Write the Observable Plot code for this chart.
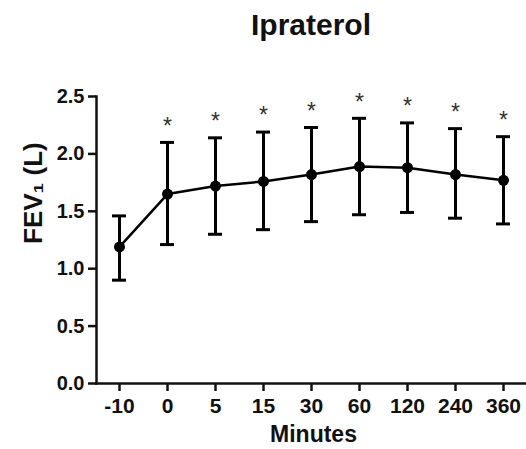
<!DOCTYPE html>
<html>
<head>
<meta charset="utf-8">
<script src="https://cdn.jsdelivr.net/npm/d3@7"></script>
<script src="https://cdn.jsdelivr.net/npm/@observablehq/plot@0.6"></script>
<style>
  body { margin: 0; background: #fff; font-family: "Liberation Sans", Arial, sans-serif; }
  #wrap { width: 526px; }
  #title { height: 50px; line-height: 50px; padding-left: 96px; text-align: center; font-weight: bold; font-size: 30px; color: #111; }
  svg { display: block; }
</style>
</head>
<body>
<div id="wrap">
  <div id="title">Ipraterol</div>
  <div id="chart"></div>
</div>
<script>
const minutes = ["-10", "0", "5", "15", "30", "60", "120", "240", "360"];
const meanFEV1 = [1.19, 1.65, 1.72, 1.76, 1.82, 1.89, 1.88, 1.82, 1.77];
const upperFEV1 = [1.46, 2.10, 2.14, 2.19, 2.23, 2.31, 2.27, 2.22, 2.15];
const lowerFEV1 = [0.90, 1.21, 1.30, 1.34, 1.41, 1.47, 1.49, 1.44, 1.39];
const significant = [false, true, true, true, true, true, true, true, true];
const yTicks = [0, 0.5, 1.0, 1.5, 2.0, 2.5];

const data = minutes.map((m, i) => ({
  m, mean: meanFEV1[i], upper: upperFEV1[i], lower: lowerFEV1[i], sig: significant[i]
}));

const font = "Liberation Sans, Arial, sans-serif";

const chart = Plot.plot({
  width: 526,
  height: 399,
  marginTop: 46,
  marginBottom: 66,
  marginLeft: 96,
  marginRight: 0,
  style: { fontFamily: font, background: "white", color: "#111" },
  x: { type: "band", domain: minutes, paddingInner: 0.71, paddingOuter: 0.305 },
  y: { domain: [0, 2.5] },
  marks: [
    Plot.axisY({ ticks: yTicks, tickFormat: d3.format(".1f"), tickSize: 8, tickPadding: 4, strokeWidth: 2.5, fontSize: 20, fontWeight: "bold", label: null }),
    Plot.axisX({ tickSize: 8, tickPadding: 7, strokeWidth: 2.5, fontSize: 21, fontWeight: "bold", label: null }),
    Plot.frame({ anchor: "left", strokeWidth: 2.5 }),
    Plot.frame({ anchor: "bottom", strokeWidth: 2.5 }),
    Plot.ruleX(data, { x: "m", y1: "lower", y2: "upper", stroke: "black", strokeWidth: 3 }),
    Plot.tickY(data, { x: "m", y: "upper", stroke: "black", strokeWidth: 3 }),
    Plot.tickY(data, { x: "m", y: "lower", stroke: "black", strokeWidth: 3 }),
    Plot.line(data, { x: "m", y: "mean", stroke: "black", strokeWidth: 2.5 }),
    Plot.dot(data, { x: "m", y: "mean", r: 5.5, fill: "black", stroke: "none" }),
    Plot.text(data.filter(d => d.sig), { x: "m", y: "upper", text: () => "*", dy: -16, fontSize: 23, fill: "#333" }),
    Plot.text(["Minutes"], { frameAnchor: "bottom", dx: 2, dy: 58, fontSize: 23, fontWeight: "bold", fill: "#111" }),
    Plot.text(["FEV\u2081 (L)"], { frameAnchor: "left", dx: -63, dy: 4, rotate: -90, fontSize: 26, fontWeight: "bold", fill: "#111" })
  ]
});
document.getElementById("chart").appendChild(chart);
</script>
</body>
</html>
